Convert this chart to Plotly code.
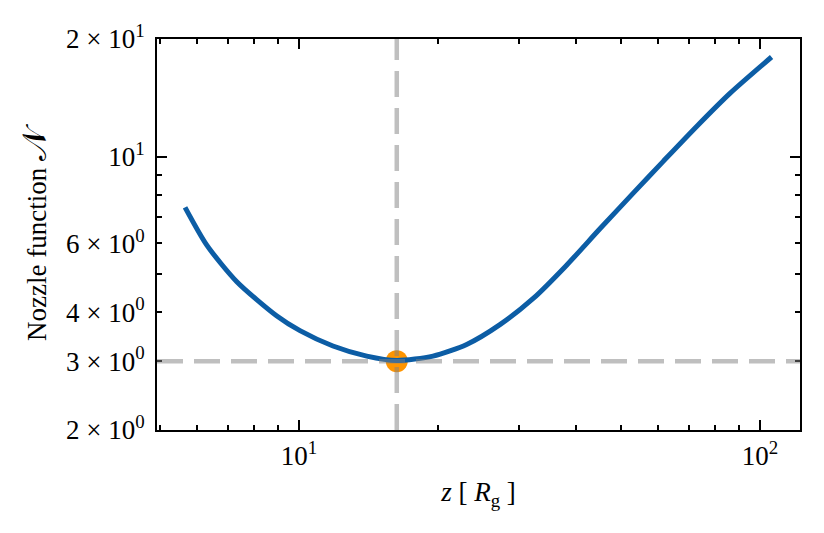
import numpy as np
import plotly.graph_objects as go

# curve data
z_vals = [5.66, 6.31, 7.33, 8.94, 10.05, 11.85, 14.03, 16.3, 19.53, 23.11, 27.29,
          32.23, 38.08, 44.97, 53.11, 61.70, 72.90, 86.09, 106.0]
N_vals = [7.42, 5.94, 4.79, 3.92, 3.59, 3.28, 3.09, 3.01, 3.09, 3.31, 3.72,
          4.34, 5.28, 6.54, 8.07, 9.73, 11.95, 14.52, 17.99]
z_min = [16.3]
N_min = [3.0]

x_major = [10, 100]
x_major_text = ["10<sup>1</sup>", "10<sup>2</sup>"]
x_minor = [5, 6, 7, 8, 9, 20, 30, 40, 50, 60, 70, 80, 90]
y_major = [10]
y_major_text = ["10<sup>1</sup>"]
y_lab_minor = [2, 3, 4, 6, 20]
y_lab_minor_text = ["2 × 10<sup>0</sup>", "3 × 10<sup>0</sup>", "4 × 10<sup>0</sup>",
                    "6 × 10<sup>0</sup>", "2 × 10<sup>1</sup>"]
y_minor = [5, 7, 8, 9]

BLUE = "#0C5DA5"
ORANGE = "#FF9500"
FONT = "Liberation Serif"
FS = 27
LW = 1.7

fig = go.Figure()
fig.add_trace(go.Scatter(x=z_min, y=N_min, mode="markers",
                         marker=dict(color=ORANGE, size=22, line=dict(width=0)),
                         showlegend=False, hoverinfo="skip"))
fig.add_trace(go.Scatter(x=z_vals, y=N_vals, mode="lines",
                         line=dict(color=BLUE, width=5, shape="spline", smoothing=0.7),
                         showlegend=False))
fig.add_trace(go.Scatter(x=[None], y=[None], yaxis="y2", showlegend=False))

dash_line = dict(color="rgba(128,128,128,0.5)", width=4.5, dash="26px,11px")
fig.add_shape(type="line", xref="x", yref="paper", x0=z_min[0], x1=z_min[0],
              y0=0, y1=1, line=dash_line, layer="above")
fig.add_shape(type="line", xref="paper", yref="y", x0=0, x1=1,
              y0=N_min[0], y1=N_min[0], line=dash_line, layer="above")

axis_common = dict(type="log", showgrid=False, zeroline=False, showline=True,
                   linecolor="black", linewidth=LW, mirror="ticks", ticks="inside",
                   tickcolor="black", tickwidth=LW,
                   tickfont=dict(family=FONT, size=FS, color="black"))

fig.update_layout(
    width=824, height=533,
    margin=dict(l=149, r=32, t=27, b=111),
    plot_bgcolor="white", paper_bgcolor="white",
    font=dict(family=FONT, size=FS, color="black"),
    xaxis=dict(axis_common, range=[0.692, 2.087], tickmode="array",
               tickvals=x_major, ticktext=x_major_text, ticklen=10,
               ticklabelstandoff=1,
               minor=dict(tickmode="array", tickvals=x_minor, ticks="inside",
                          ticklen=5, tickwidth=LW, tickcolor="black", showgrid=False),
               title=dict(text="<i>z</i> [ <i>R</i><sub>g</sub> ]",
                          font=dict(family=FONT, size=FS), standoff=12)),
    yaxis=dict(axis_common, range=[np.log10(2), np.log10(20)], tickmode="array",
               tickvals=y_major, ticktext=y_major_text, ticklen=10,
               ticklabelstandoff=5,
               minor=dict(tickmode="array", tickvals=y_minor, ticks="inside",
                          ticklen=5, tickwidth=LW, tickcolor="black", showgrid=False)),
    yaxis2=dict(axis_common, overlaying="y", side="left",
                range=[np.log10(2), np.log10(20)], tickmode="array",
                tickvals=y_lab_minor, ticktext=y_lab_minor_text, ticklen=5,
                ticklabelstandoff=5,
                title=dict(text="Nozzle function <span style='font-size:34px'>𝒩</span>",
                           font=dict(family=FONT, size=FS), standoff=12)),
)

fig.write_html("out.html")
